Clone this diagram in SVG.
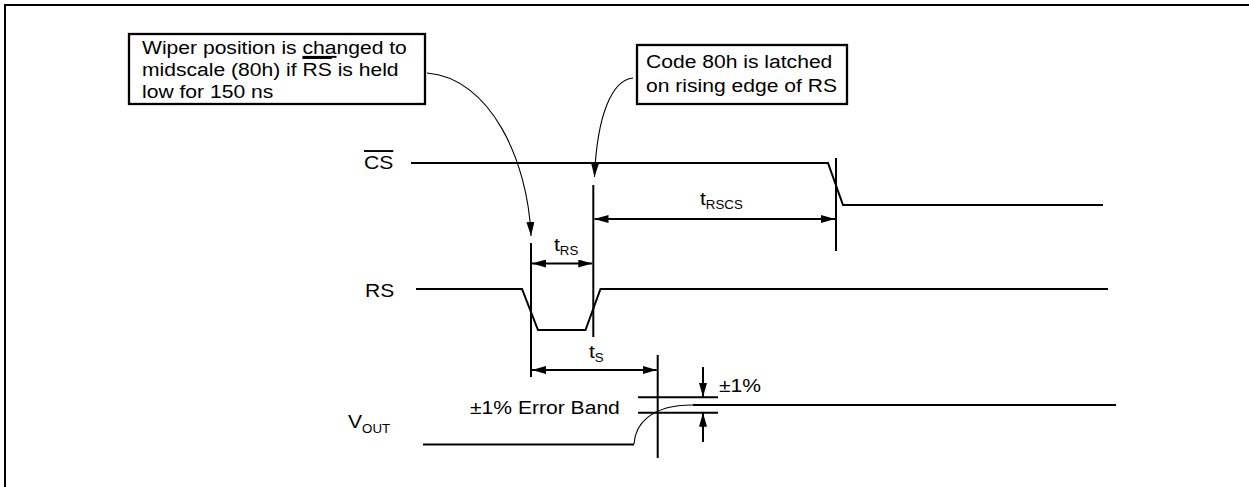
<svg xmlns="http://www.w3.org/2000/svg" width="1249" height="487" viewBox="0 0 1249 487">
<style>
text{font-family:"Liberation Sans",Arial,Helvetica,sans-serif;font-size:19px;fill:#000}
.sub{font-size:12px}
.sig{fill:none;stroke:#000;stroke-width:2}
.box{fill:#fff;stroke:#000;stroke-width:2.3}
.thin{fill:none;stroke:#000;stroke-width:1.1}
.dim{fill:none;stroke:#000;stroke-width:2}
</style>
<defs>
<marker id="ah" viewBox="0 0 14 8" refX="14" refY="4" markerWidth="14" markerHeight="8" markerUnits="userSpaceOnUse" orient="auto-start-reverse"><path d="M0,0 L14,4 L0,8 z" fill="#000"/></marker>
</defs>
<rect x="0" y="0" width="1249" height="487" fill="#fff"/>
<rect id="frame" x="5" y="5" width="1300" height="600" fill="none" stroke="#000" stroke-width="2"/>

<g id="callout-wiper">
<rect class="box" x="129" y="34" width="296" height="70"/>
<g transform="translate(142,0) scale(1.11,1)">
<text><tspan x="0" y="54">Wiper position is <tspan text-decoration="underline">cha</tspan>nged to</tspan><tspan x="0" y="76">midscale (80h) if <tspan text-decoration="overline">RS</tspan> is held</tspan><tspan x="0" y="98">low for 150 ns</tspan></text>
</g>
</g>

<g id="callout-latch">
<rect class="box" x="637" y="45" width="210" height="59"/>
<g transform="translate(646,0) scale(1.11,1)">
<text><tspan x="0" y="68">Code 80h is latched</tspan><tspan x="0" y="92.5">on rising edge of RS</tspan></text>
</g>
</g>

<g id="connectors">
<path class="thin" d="M427,73 C490,78 528,160 531,236" marker-end="url(#ah)"/>
<path class="thin" d="M633,78 C612,80 597,115 594.5,177" marker-end="url(#ah)"/>
</g>

<g id="signal-cs">
<g transform="translate(364,169) scale(1.11,1)"><text text-decoration="overline">CS</text></g>
<path class="sig" d="M411,163 H828 L843,205 H1103"/>
</g>

<g id="signal-rs">
<g transform="translate(365,297) scale(1.11,1)"><text>RS</text></g>
<path class="sig" d="M416,289 H522 L538,330 H585.5 L600.5,289 H1108"/>
</g>

<g id="signal-vout">
<g transform="translate(348,428) scale(1.11,1)"><text>V<tspan class="sub" dy="5">OUT</tspan></text></g>
<path class="sig" d="M423,444.5 H634"/>
<path class="thin" d="M634,444 C635,425 650,405 692,405"/>
<path class="sig" d="M692.5,405 H1116"/>
<path class="sig" d="M638,397.3 H718 M638,412.7 H718"/>
<g transform="translate(470,414) scale(1.11,1)"><text>±1% Error Band</text></g>
<g transform="translate(719,392) scale(1.11,1)"><text>±1%</text></g>
<path class="dim" d="M703,367 V397" marker-end="url(#ah)"/>
<path class="dim" d="M703,442 V412.7" marker-end="url(#ah)"/>
</g>

<g id="timing">
<path class="sig" d="M836,158 V251"/>
<path class="sig" d="M593.3,185 V337"/>
<path class="sig" d="M531,243 V377"/>
<path class="sig" d="M657.7,355 V458"/>
<path class="dim" d="M594.5,219 H835" marker-start="url(#ah)" marker-end="url(#ah)"/>
<path class="dim" d="M532,263.5 H592.3" marker-start="url(#ah)" marker-end="url(#ah)"/>
<path class="dim" d="M532,370 H656.7" marker-start="url(#ah)" marker-end="url(#ah)"/>
<g transform="translate(700,205) scale(1.11,1)"><text>t<tspan class="sub" dy="4">RSCS</tspan></text></g>
<g transform="translate(554,251) scale(1.11,1)"><text>t<tspan class="sub" dy="4">RS</tspan></text></g>
<g transform="translate(589,357.5) scale(1.11,1)"><text>t<tspan class="sub" dy="4">S</tspan></text></g>
</g>
</svg>
